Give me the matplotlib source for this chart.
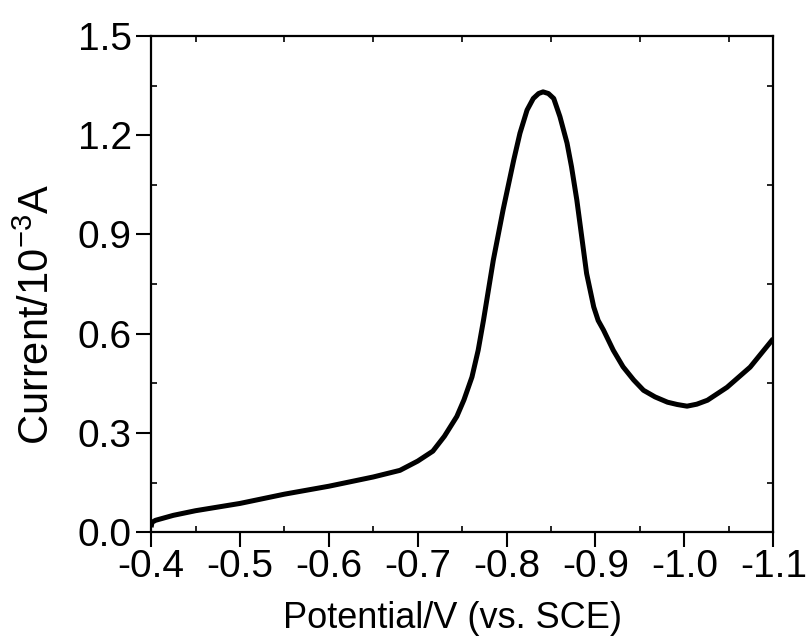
import matplotlib.pyplot as plt
from matplotlib.ticker import MultipleLocator

# values (potential in V vs. SCE, current in 1e-3 A)
potential = [-0.400, -0.401, -0.405, -0.425, -0.45, -0.50, -0.55, -0.60, -0.65,
             -0.68, -0.70, -0.717, -0.730, -0.744, -0.752, -0.761, -0.768,
             -0.774, -0.785, -0.796, -0.808, -0.815, -0.823, -0.830, -0.836,
             -0.841, -0.847, -0.853, -0.860, -0.868, -0.873, -0.879, -0.885,
             -0.890, -0.898, -0.903, -0.909, -0.920, -0.931, -0.943, -0.954,
             -0.967, -0.981, -0.992, -1.003, -1.014, -1.026, -1.048, -1.074,
             -1.100]
current = [0.015, 0.030, 0.036, 0.051, 0.065, 0.087, 0.115, 0.139, 0.167,
           0.187, 0.215, 0.245, 0.290, 0.350, 0.400, 0.469, 0.550,
           0.641, 0.822, 0.974, 1.125, 1.206, 1.276, 1.311, 1.326,
           1.331, 1.326, 1.311, 1.256, 1.176, 1.105, 1.004, 0.883,
           0.782, 0.681, 0.640, 0.611, 0.550, 0.500, 0.460, 0.429,
           0.409, 0.393, 0.386, 0.381, 0.387, 0.399, 0.438, 0.499,
           0.585]

xticks = [-0.4, -0.5, -0.6, -0.7, -0.8, -0.9, -1.0, -1.1]
yticks = [0.0, 0.3, 0.6, 0.9, 1.2, 1.5]

plt.rcParams['font.family'] = ['Liberation Sans', 'DejaVu Sans']

fig = plt.figure(figsize=(8.08, 6.42), dpi=100)
ax = fig.add_axes([0.187, 0.171, 0.770, 0.773])

ax.plot(potential, current, color='black', linewidth=3.6,
        solid_joinstyle='round', solid_capstyle='butt')

ax.set_xlim(-0.4, -1.1)
ax.set_ylim(0.0, 1.5)
ax.set_xticks(xticks)
ax.set_xticklabels([f"{t:.1f}" for t in xticks])
ax.set_yticks(yticks)
ax.set_yticklabels([f"{t:.1f}" for t in yticks])
ax.xaxis.set_minor_locator(MultipleLocator(0.05))
ax.yaxis.set_minor_locator(MultipleLocator(0.15))

ax.tick_params(which='major', direction='out', length=11, width=1.5,
               labelsize=28)
ax.tick_params(axis='x', which='major', pad=1)
ax.tick_params(axis='y', which='major', pad=3)
ax.tick_params(which='minor', direction='in', length=4, width=1.2)
ax.tick_params(which='both', top=True, right=True)
ax.tick_params(which='major', top=False, right=False)

for s in ax.spines.values():
    s.set_linewidth(1.6)

fig.text(452 / 808, 1 - 628 / 642, "Potential/V (vs. SCE)", fontsize=26,
         ha='center', va='baseline')
fig.text(38 / 808, 1 - 314 / 642, "Current/10$^{\\mathregular{-3}}$A",
         fontsize=30, rotation=90, ha='center', va='center')

fig.savefig("out.png", dpi=100)
